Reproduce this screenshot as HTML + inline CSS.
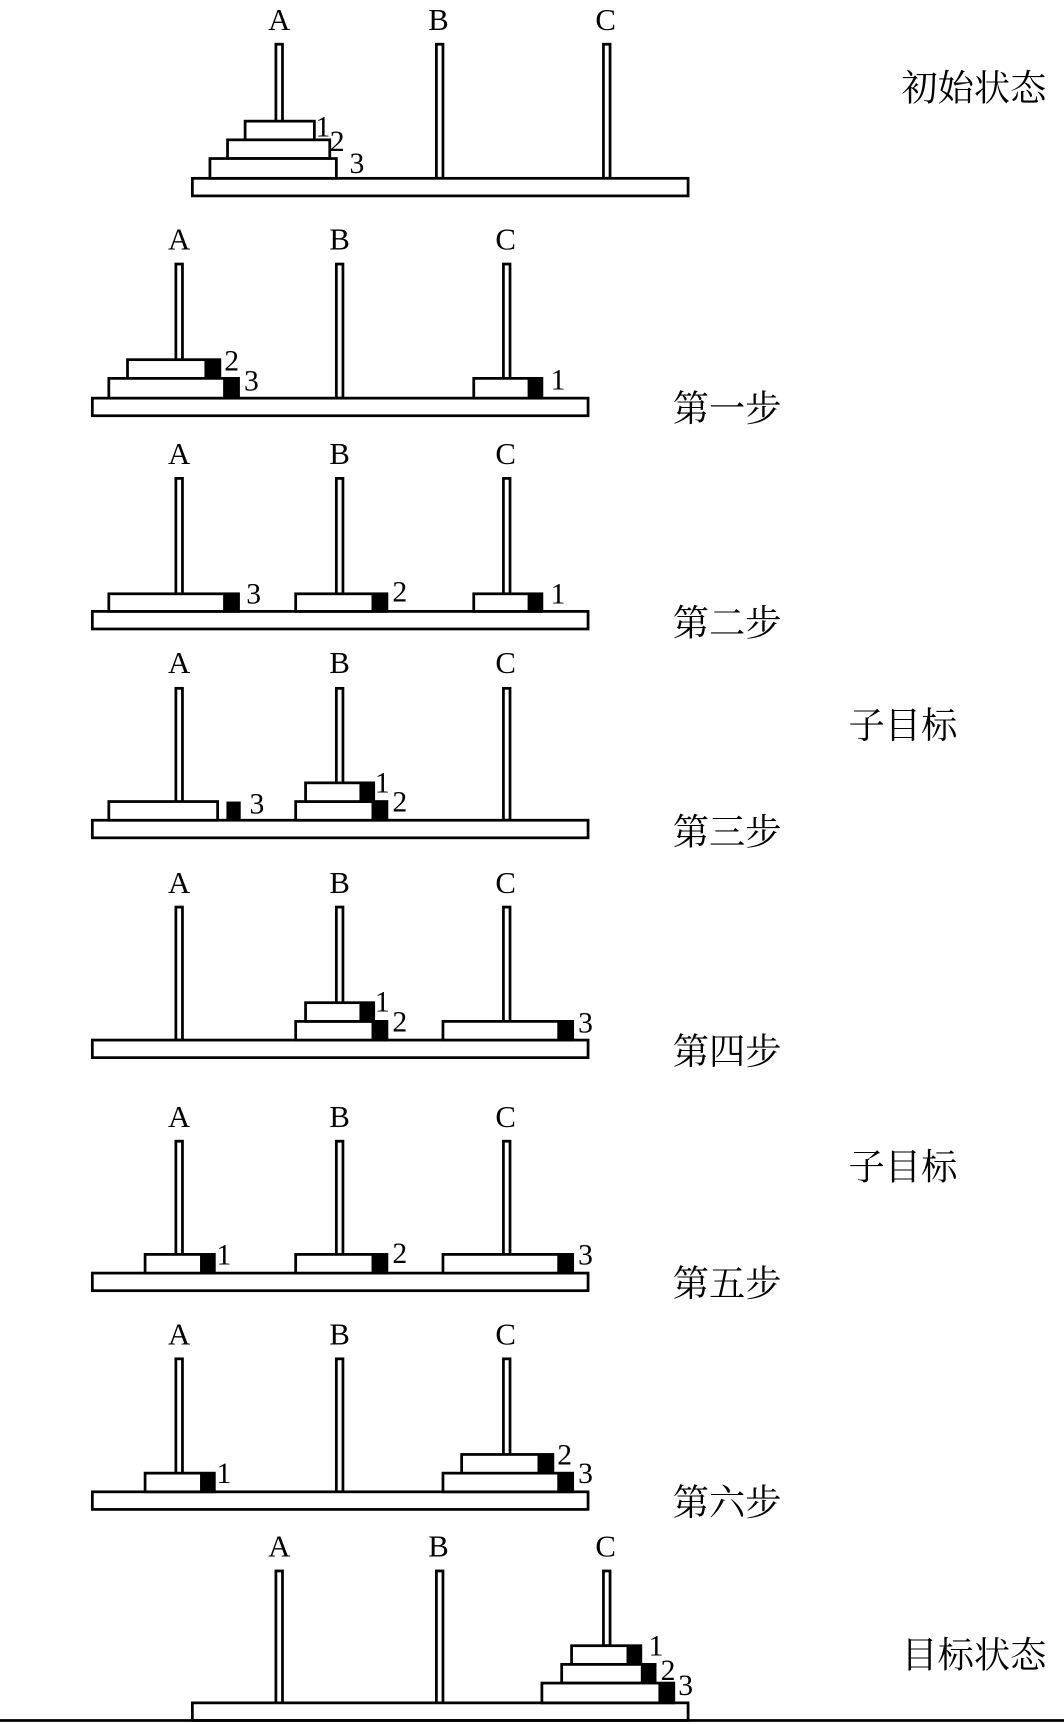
<!DOCTYPE html>
<html><head><meta charset="utf-8"><style>html,body{margin:0;padding:0;background:#fff}svg{display:block}</style></head>
<body>
<svg width="1064" height="1724" viewBox="0 0 968 1568" xmlns="http://www.w3.org/2000/svg">
<g fill="#fff" stroke="#000" stroke-width="2.5">
<rect x="251" y="40" width="6" height="122"/><rect x="397" y="40" width="6" height="122"/><rect x="549" y="40" width="6" height="122"/>
<rect x="175" y="162" width="451" height="16"/>
<rect x="223" y="110" width="63" height="17"/><rect x="207" y="127" width="93" height="17"/><rect x="191" y="144" width="115" height="18"/>
<rect x="160" y="240" width="6" height="122"/><rect x="306" y="240" width="6" height="122"/><rect x="458" y="240" width="6" height="122"/>
<rect x="84" y="362" width="451" height="16"/>
<rect x="116" y="327" width="84" height="17"/><rect x="99" y="344" width="118" height="18"/><rect x="431" y="344" width="62" height="18"/>
<rect x="160" y="435" width="6" height="121"/><rect x="306" y="435" width="6" height="121"/><rect x="458" y="435" width="6" height="121"/>
<rect x="84" y="556" width="451" height="16"/>
<rect x="99" y="540" width="118" height="16"/><rect x="269" y="540" width="83" height="16"/><rect x="431" y="540" width="62" height="16"/>
<rect x="160" y="626" width="6" height="120"/><rect x="306" y="626" width="6" height="120"/><rect x="458" y="626" width="6" height="120"/>
<rect x="84" y="746" width="451" height="16"/>
<rect x="99" y="729" width="99" height="17"/><rect x="269" y="729" width="83" height="17"/><rect x="278" y="712" width="62" height="17"/>
<rect x="160" y="825" width="6" height="121"/><rect x="306" y="825" width="6" height="121"/><rect x="458" y="825" width="6" height="121"/>
<rect x="84" y="946" width="451" height="16"/>
<rect x="269" y="929" width="83" height="17"/><rect x="278" y="912" width="62" height="17"/><rect x="403" y="929" width="118" height="17"/>
<rect x="160" y="1038" width="6" height="120"/><rect x="306" y="1038" width="6" height="120"/><rect x="458" y="1038" width="6" height="120"/>
<rect x="84" y="1158" width="451" height="16"/>
<rect x="132" y="1141" width="63" height="17"/><rect x="269" y="1141" width="83" height="17"/><rect x="403" y="1141" width="118" height="17"/>
<rect x="160" y="1236" width="6" height="121"/><rect x="306" y="1236" width="6" height="121"/><rect x="458" y="1236" width="6" height="121"/>
<rect x="84" y="1357" width="451" height="16"/>
<rect x="132" y="1340" width="63" height="17"/><rect x="403" y="1340" width="118" height="17"/><rect x="420" y="1323" width="83" height="17"/>
<rect x="251" y="1429" width="6" height="120"/><rect x="397" y="1429" width="6" height="120"/><rect x="549" y="1429" width="6" height="68"/>
<rect x="175" y="1549" width="451" height="16"/>
<rect x="520" y="1497" width="63" height="17"/><rect x="511" y="1514" width="85" height="17"/><rect x="493" y="1531" width="120" height="18"/>
</g>
<line x1="0" y1="1565" x2="968" y2="1565" stroke="#000" stroke-width="2.5"/>
<g fill="#000">
<rect x="186" y="327" width="14" height="17"/><rect x="203" y="344" width="14" height="18"/><rect x="480" y="344" width="13" height="18"/>
<rect x="203" y="540" width="14" height="16"/><rect x="338" y="540" width="14" height="16"/><rect x="480" y="540" width="13" height="16"/>
<rect x="206" y="729" width="13" height="17"/><rect x="338" y="729" width="14" height="17"/><rect x="327" y="712" width="13" height="17"/>
<rect x="338" y="929" width="14" height="17"/><rect x="327" y="912" width="13" height="17"/><rect x="507" y="929" width="14" height="17"/>
<rect x="182" y="1141" width="13" height="17"/><rect x="338" y="1141" width="14" height="17"/><rect x="507" y="1141" width="14" height="17"/>
<rect x="182" y="1340" width="13" height="17"/><rect x="507" y="1340" width="14" height="17"/><rect x="489" y="1323" width="14" height="17"/>
<rect x="570" y="1497" width="13" height="17"/><rect x="583" y="1514" width="13" height="17"/><rect x="599" y="1531" width="14" height="18"/>
</g>
<g font-family="Liberation Serif, serif" font-size="28" text-anchor="middle" fill="#000">
<text x="254" y="27">A</text><text x="399" y="27">B</text><text x="551" y="27">C</text>
<text x="163" y="227">A</text><text x="309" y="227">B</text><text x="460" y="227">C</text>
<text x="163" y="422">A</text><text x="309" y="422">B</text><text x="460" y="422">C</text>
<text x="163" y="612">A</text><text x="309" y="612">B</text><text x="460" y="612">C</text>
<text x="163" y="812">A</text><text x="309" y="812">B</text><text x="460" y="812">C</text>
<text x="163" y="1025">A</text><text x="309" y="1025">B</text><text x="460" y="1025">C</text>
<text x="163" y="1223">A</text><text x="309" y="1223">B</text><text x="460" y="1223">C</text>
<text x="254" y="1416">A</text><text x="399" y="1416">B</text><text x="551" y="1416">C</text>
</g>
<g font-family="Liberation Serif, serif" font-size="27" fill="#000">
<text x="287" y="124">1</text><text x="300" y="137">2</text><text x="318" y="157">3</text>
<text x="204" y="337">2</text><text x="222" y="355">3</text><text x="501" y="354">1</text>
<text x="224" y="549">3</text><text x="357" y="547">2</text><text x="501" y="549">1</text>
<text x="227" y="740">3</text><text x="341" y="721">1</text><text x="357" y="738">2</text>
<text x="341" y="920">1</text><text x="357" y="938">2</text><text x="526" y="939">3</text>
<text x="197" y="1150">1</text><text x="357" y="1149">2</text><text x="526" y="1150">3</text>
<text x="197" y="1349">1</text><text x="507" y="1332">2</text><text x="526" y="1349">3</text>
<text x="590" y="1506">1</text><text x="601" y="1528">2</text><text x="617" y="1542">3</text>
</g>
<g font-family="Liberation Serif, 'Noto Serif CJK SC', serif" font-size="33" fill="#000">
<text x="820" y="91">初始状态</text>
<text x="612" y="383">第一步</text>
<text x="612" y="578">第二步</text>
<text x="772" y="671">子目标</text>
<text x="612" y="768">第三步</text>
<text x="612" y="968">第四步</text>
<text x="772" y="1073">子目标</text>
<text x="612" y="1179">第五步</text>
<text x="612" y="1378">第六步</text>
<text x="820" y="1517">目标状态</text>
</g>
</svg>
</body></html>
